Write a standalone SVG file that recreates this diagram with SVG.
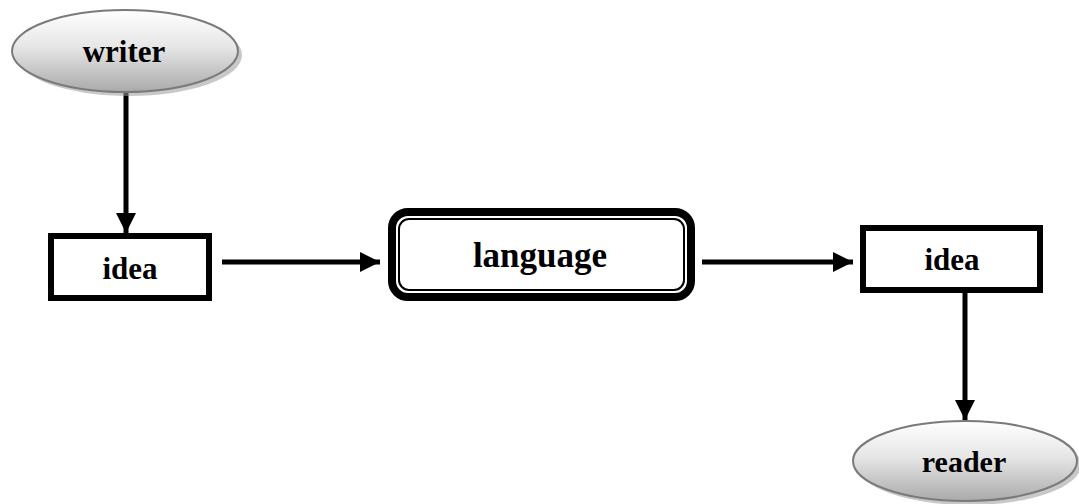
<svg xmlns="http://www.w3.org/2000/svg" width="1079" height="504" viewBox="0 0 1079 504">
  <defs>
    <linearGradient id="oval-fill" x1="0" y1="0" x2="0" y2="1">
      <stop offset="0" stop-color="#ffffff"/>
      <stop offset="0.45" stop-color="#e6e6e6"/>
      <stop offset="1" stop-color="#aaaaaa"/>
    </linearGradient>
    <marker id="head" viewBox="0 0 10 10" refX="10" refY="5" markerWidth="4" markerHeight="4" orient="auto" markerUnits="strokeWidth">
      <path d="M0,0 L10,5 L0,10 Z" fill="#000"/>
    </marker>
  </defs>
  <style>
    .label { font-family: "Liberation Serif", "Times New Roman", serif; font-weight: bold; fill: #000; text-anchor: middle; }
    .oval { fill: url(#oval-fill); stroke: #7a7a7a; stroke-width: 2; }
    .shadow { fill: #9a9a9a; opacity: 0.55; }
    .box { fill: #fff; stroke: #000; stroke-width: 6; }
    .conn { stroke: #000; stroke-width: 5; fill: none; marker-end: url(#head); }
  </style>
  <rect width="1079" height="504" fill="#fff"/>

  <g id="connectors">
    <line class="conn" x1="126" y1="92" x2="126" y2="233"/>
    <line class="conn" x1="222" y1="262" x2="380" y2="262"/>
    <line class="conn" x1="702" y1="262" x2="853" y2="262"/>
    <line class="conn" x1="965" y1="293" x2="965" y2="420"/>
  </g>

  <g id="writer">
    <ellipse class="shadow" cx="129" cy="55" rx="113" ry="41"/>
    <ellipse class="oval" cx="125" cy="51" rx="113" ry="41"/>
    <text class="label" x="124" y="62" font-size="31">writer</text>
  </g>

  <g id="idea-left">
    <rect class="box" x="51" y="236" width="158" height="62"/>
    <text class="label" x="130" y="279" font-size="31">idea</text>
  </g>

  <g id="language">
    <rect x="392" y="212" width="299" height="85" rx="16" ry="16" fill="#fff" stroke="#000" stroke-width="8"/>
    <rect x="399" y="219" width="285" height="71" rx="10" ry="10" fill="none" stroke="#000" stroke-width="2"/>
    <text class="label" x="540" y="267" font-size="35">language</text>
  </g>

  <g id="idea-right">
    <rect class="box" x="863" y="228" width="177" height="62"/>
    <text class="label" x="952" y="270" font-size="31">idea</text>
  </g>

  <g id="reader">
    <ellipse class="shadow" cx="969" cy="465" rx="112" ry="40"/>
    <ellipse class="oval" cx="965" cy="461" rx="112" ry="40"/>
    <text class="label" x="964" y="472" font-size="30">reader</text>
  </g>
</svg>
